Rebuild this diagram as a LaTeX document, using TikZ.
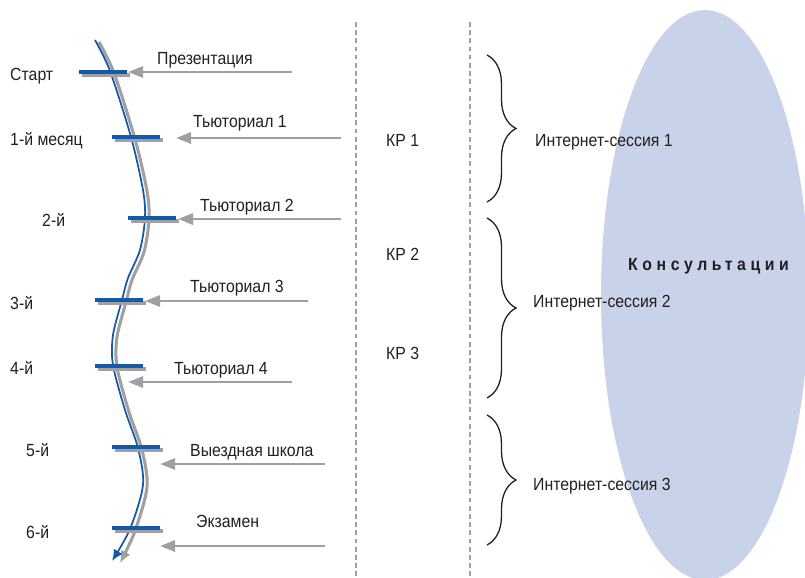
\documentclass[tikz,border=0pt]{standalone}
\usepackage{fontspec}
\setmainfont{Liberation Sans}[FakeStretch=0.9]
\newfontfamily\consfont{Liberation Sans}[FakeStretch=0.9,LetterSpace=26]
\usetikzlibrary{arrows.meta,decorations.pathreplacing}
\definecolor{lineablue}{RGB}{20,90,168}
\definecolor{lineagris}{RGB}{160,160,162}
\definecolor{consulta}{RGB}{200,210,233}
\definecolor{texto}{RGB}{35,31,32}

\begin{document}
\begin{tikzpicture}[x=0.03cm,y=-0.03cm,
  every node/.style={font=\fontsize{15}{17}\selectfont,text=texto,inner sep=0pt},
  etiq/.style={anchor=mid west},
  barra/.style={line width=3.4pt},
  flecha/.style={lineagris,line width=2.5pt,-{Triangle[length=4.5mm,width=3.3mm]}},
  llave/.style={decorate,decoration={brace,amplitude=0.87cm},line width=1.1pt,texto},
  corte/.style={lineagris,line width=1.3pt,dash pattern=on 4pt off 3pt}]
  \useasboundingbox (0,0) rectangle (805,577);
  \clip (0,0) rectangle (805,577);
  % elipse de consultas
  \fill[consulta] (705,295) ellipse [x radius=104, y radius=285];
  \node[anchor=mid west,font=\consfont\bfseries\fontsize{15}{17}\selectfont] (kons) at (628,267) {Консультации};
  % lineas de corte
  \draw[corte] (356,22) -- (356,577);
  \draw[corte] (470,22) -- (470,577);
  % trayectoria (gris detras, azul delante)
  \draw[lineagris,line width=2.6pt,-{Latex[length=3.6mm,width=3.2mm]}] plot[smooth] coordinates {(99,42) (114,73) (135,139) (147,191) (149,220) (144,252) (132,280) (126,302) (117,337) (117,367) (129,412) (142,450) (147,487) (135,531) (120,563)};
  \draw[lineablue,line width=1.5pt,-{Latex[length=3.4mm,width=3mm]}] plot[smooth] coordinates {(95,40) (110,71) (131,137) (143,190) (145,218) (140,250) (128,278) (122,300) (113,335) (113,365) (125,410) (138,448) (143,485) (130,529) (112,561)};
  % hitos
  \draw[barra,lineagris] (82,75) -- (130,75);  \draw[barra,lineablue] (79,72) -- (127,72);
  \draw[barra,lineagris] (115,140) -- (163,140); \draw[barra,lineablue] (112,137) -- (160,137);
  \draw[barra,lineagris] (131,221) -- (179,221); \draw[barra,lineablue] (128,218) -- (176,218);
  \draw[barra,lineagris] (98,303) -- (146,303); \draw[barra,lineablue] (95,300) -- (143,300);
  \draw[barra,lineagris] (98,369) -- (146,369); \draw[barra,lineablue] (95,366) -- (143,366);
  \draw[barra,lineagris] (115,450) -- (163,450); \draw[barra,lineablue] (112,447) -- (160,447);
  \draw[barra,lineagris] (115,531) -- (163,531); \draw[barra,lineablue] (112,528) -- (160,528);
  % meses
  \node[etiq] (m0) at (10,77) {Старт};
  \node[etiq] (m1) at (10,142) {1-й месяц};
  \node[etiq] (m2) at (42,223) {2-й};
  \node[etiq] (m3) at (10,306) {3-й};
  \node[etiq] (m4) at (10,371) {4-й};
  \node[etiq] (m5) at (26,453) {5-й};
  \node[etiq] (m6) at (26,535) {6-й};
  % eventos con flechas
  \coordinate (pres-a) at (292,72);  \coordinate (pres-b) at (128,72);
  \coordinate (tut1-a) at (341,138); \coordinate (tut1-b) at (176,138);
  \coordinate (tut2-a) at (341,219); \coordinate (tut2-b) at (178,219);
  \coordinate (tut3-a) at (308,301); \coordinate (tut3-b) at (145,301);
  \coordinate (tut4-a) at (292,382); \coordinate (tut4-b) at (128,382);
  \coordinate (shk-a) at (325,464);  \coordinate (shk-b) at (160,464);
  \coordinate (ekz-a) at (325,546);  \coordinate (ekz-b) at (160,546);
  \draw[flecha] (pres-a) -- (pres-b); \node[etiq] (pres) at (157,61) {Презентация};
  \draw[flecha] (tut1-a) -- (tut1-b); \node[etiq] (tut1) at (193,124) {Тьюториал 1};
  \draw[flecha] (tut2-a) -- (tut2-b); \node[etiq] (tut2) at (200,208) {Тьюториал 2};
  \draw[flecha] (tut3-a) -- (tut3-b); \node[etiq] (tut3) at (190,289) {Тьюториал 3};
  \draw[flecha] (tut4-a) -- (tut4-b); \node[etiq] (tut4) at (174,371) {Тьюториал 4};
  \draw[flecha] (shk-a) -- (shk-b);   \node[etiq] (shk) at (190,453) {Выездная школа};
  \draw[flecha] (ekz-a) -- (ekz-b);   \node[etiq] (ekz) at (196,524) {Экзамен};
  % controles
  \node[etiq] (kr1) at (386,143) {КР 1};
  \node[etiq] (kr2) at (386,257) {КР 2};
  \node[etiq] (kr3) at (386,356) {КР 3};
  % sesiones
  \draw[llave] (487,55) -- (487,202);
  \draw[llave] (487,218) -- (487,398);
  \draw[llave] (487,415) -- (487,545);
  \node[etiq] (ses1) at (535,143) {Интернет-сессия 1};
  \node[etiq] (ses2) at (533,304) {Интернет-сессия 2};
  \node[etiq] (ses3) at (533,487) {Интернет-сессия 3};
\end{tikzpicture}
\end{document}
